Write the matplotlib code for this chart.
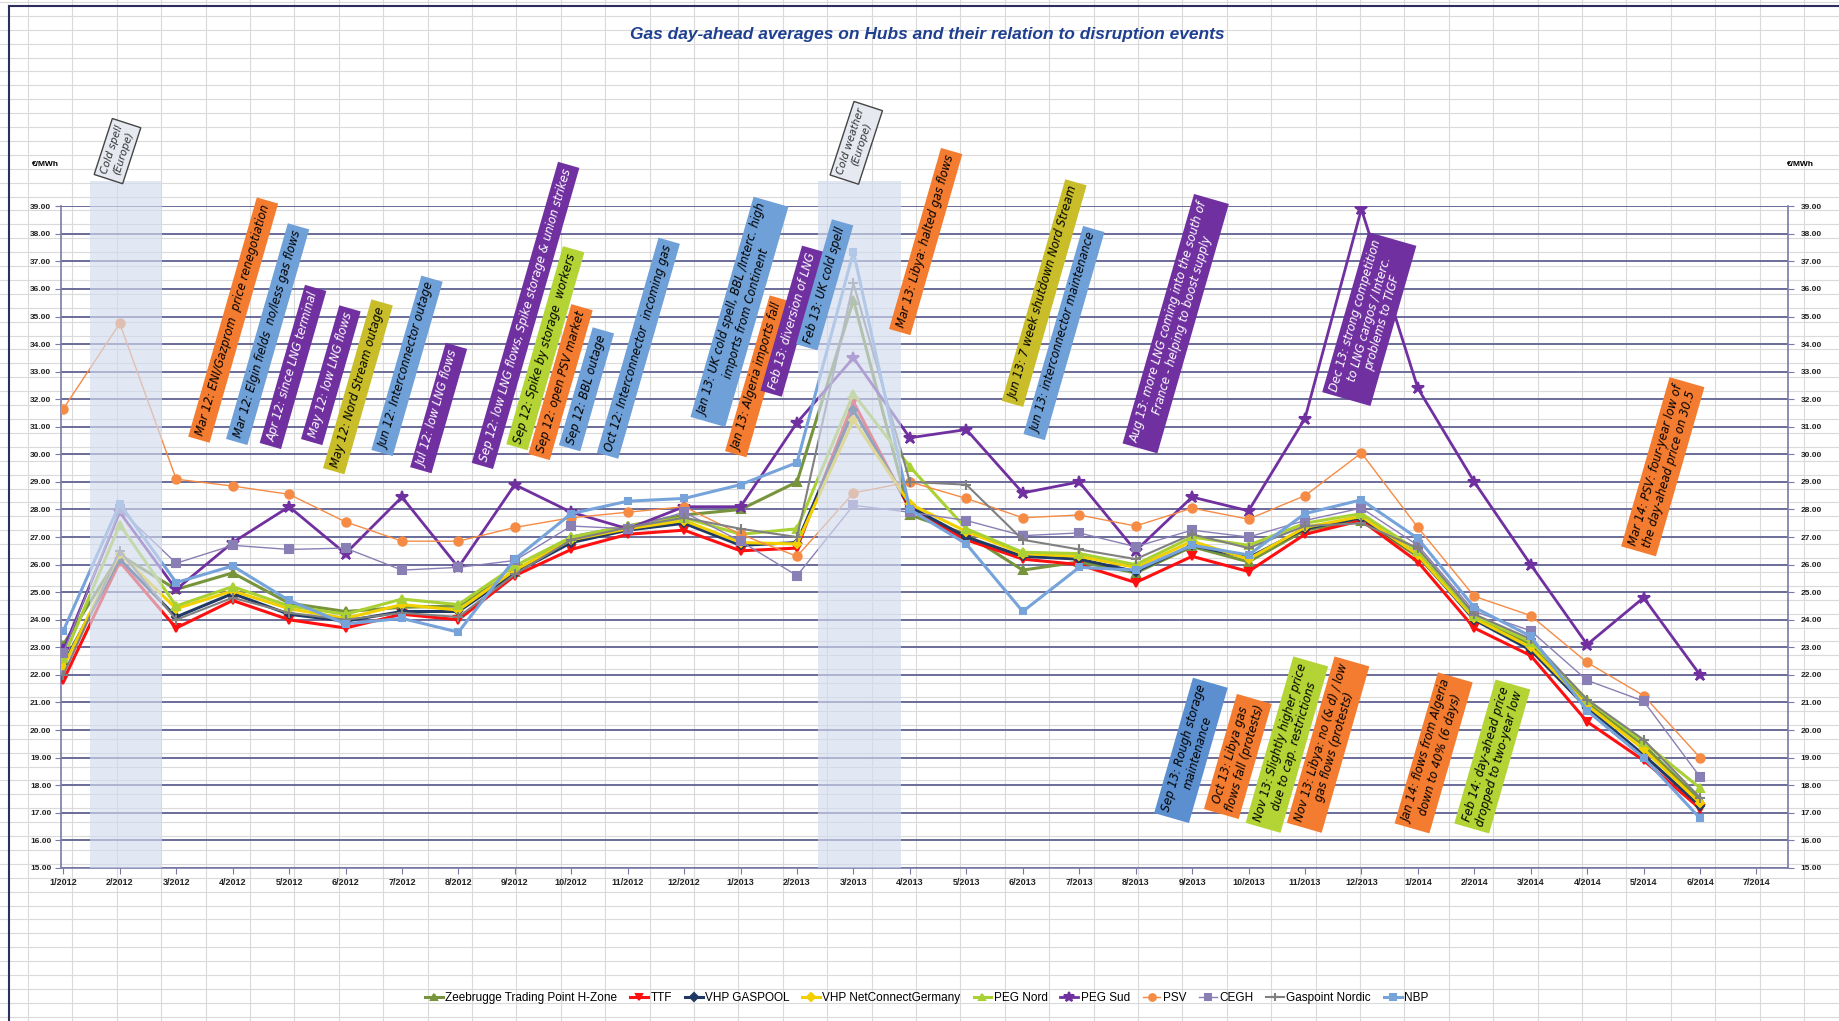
import numpy as np
import matplotlib
matplotlib.use("Agg")
import matplotlib.pyplot as plt
from matplotlib.lines import Line2D
from matplotlib.patches import Rectangle

plt.rcParams['font.family'] = ['Liberation Sans Narrow', 'Liberation Sans', 'DejaVu Sans']

# --- data ---
months = ["1/2012", "2/2012", "3/2012", "4/2012", "5/2012", "6/2012", "7/2012", "8/2012",
          "9/2012", "10/2012", "11/2012", "12/2012", "1/2013", "2/2013", "3/2013", "4/2013",
          "5/2013", "6/2013", "7/2013", "8/2013", "9/2013", "10/2013", "11/2013", "12/2013",
          "1/2014", "2/2014", "3/2014", "4/2014", "5/2014", "6/2014", "7/2014"]

zeebrugge = [23.1, 26.35, 25.1, 25.7, 24.6, 24.3, 24.45, 24.5, 25.75, 27.0, 27.4, 27.8, 28.0, 29.0, 35.6,
             27.8, 27.1, 25.8, 26.1, 25.7, 26.65, 26.1, 27.25, 27.6, 26.3, 24.1, 23.1, 21.0, 19.45, 17.45]
ttf = [21.8, 26.1, 23.7, 24.7, 24.0, 23.7, 24.2, 24.0, 25.6, 26.55, 27.1, 27.25, 26.5, 26.6, 31.9,
       28.0, 26.9, 26.2, 26.0, 25.35, 26.3, 25.75, 27.1, 27.6, 26.1, 23.7, 22.7, 20.3, 18.9, 17.15]
gaspool = [22.4, 26.2, 24.1, 24.95, 24.2, 23.95, 24.3, 24.3, 25.7, 26.8, 27.25, 27.5, 26.7, 26.8, 31.6,
           28.1, 27.0, 26.3, 26.2, 25.75, 26.7, 26.25, 27.3, 27.7, 26.35, 24.0, 22.9, 20.8, 19.1, 17.25]
netconnect = [22.3, 26.4, 24.4, 25.05, 24.4, 24.05, 24.55, 24.35, 25.8, 26.9, 27.3, 27.6, 26.8, 26.75, 31.25,
              28.2, 27.2, 26.4, 26.3, 25.9, 26.85, 26.2, 27.35, 27.75, 26.35, 24.05, 23.0, 20.9, 19.3, 17.35]
peg_nord = [22.6, 27.45, 24.5, 25.2, 24.5, 24.2, 24.75, 24.55, 25.95, 27.0, 27.4, 27.7, 27.1, 27.3, 32.2,
            29.55, 27.3, 26.45, 26.4, 26.0, 27.0, 26.7, 27.5, 27.85, 26.5, 24.15, 23.2, 21.1, 19.55, 17.9]
peg_sud = [22.9, 27.9, 25.1, 26.8, 28.1, 26.4, 28.45, 25.9, 28.9, 27.9, 27.3, 28.1, 28.1, 31.15, 33.5,
           30.6, 30.9, 28.6, 29.0, 26.5, 28.45, 27.95, 31.3, 38.9, 32.4, 29.0, 26.0, 23.1, 24.8, 22.0]
psv = [31.65, 34.75, 29.1, 28.85, 28.55, 27.55, 26.85, 26.85, 27.35, 27.7, 27.9, 28.1, 27.1, 26.3, 28.6,
       29.0, 28.4, 27.7, 27.8, 27.4, 28.05, 27.65, 28.5, 30.05, 27.35, 24.85, 24.15, 22.45, 21.25, 19.0]
cegh = [22.8, 28.0, 26.05, 26.7, 26.55, 26.6, 25.8, 25.9, 26.15, 27.4, 27.3, 27.9, 26.85, 25.6, 28.15,
        27.9, 27.6, 27.05, 27.15, 26.65, 27.25, 27.0, 27.6, 28.05, 26.7, 24.3, 23.6, 21.8, 21.05, 18.3]
gaspoint = [22.0, 26.5, 24.0, 24.8, 24.25, 24.0, 24.25, 24.1, 25.65, 26.9, 27.35, 27.7, 27.3, 27.0, 36.2,
            29.0, 28.9, 26.9, 26.55, 26.2, 27.1, 26.6, 27.4, 27.5, 26.6, 24.2, 23.3, 21.1, 19.65, 17.55]
nbp = [23.6, 28.2, 25.35, 25.95, 24.7, 23.85, 24.05, 23.55, 26.2, 27.85, 28.3, 28.4, 28.9, 29.7, 37.35,
       28.0, 26.75, 24.3, 25.9, 25.8, 26.7, 26.35, 27.85, 28.35, 26.95, 24.45, 23.4, 20.7, 19.0, 16.8]

# name, values, colour, marker, line width, marker size
series = [
    ("Zeebrugge Trading Point H-Zone", zeebrugge, '#77933c', '^', 2.2, 6),
    ("TTF", ttf, '#ff1010', 'v', 2.2, 6),
    ("VHP GASPOOL", gaspool, '#1f3864', 'D', 2.2, 4.5),
    ("VHP NetConnectGermany", netconnect, '#f2d000', 'D', 2.2, 4.5),
    ("PEG Nord", peg_nord, '#a9d134', '^', 2.2, 6),
    ("PEG Sud", peg_sud, '#7030a0', '*', 2.0, 9),
    ("PSV", psv, '#f58b45', 'o', 1.0, 6),
    ("CEGH", cegh, '#8a7fb5', 's', 1.0, 6),
    ("Gaspoint Nordic", gaspoint, '#808080', '+', 1.5, 7),
    ("NBP", nbp, '#76a3da', 's', 2.2, 5),
]

# event notes: text, face colour, text colour, x (month index), y (EUR/MWh)
purple, orange, lblue, lgreen = '#7030a0', '#f47c30', '#6fa0d8', '#b4d334'
notes = [
    ("Mar 12: ENI/Gazprom  price renegotiation", orange, 'black', 3.01, 34.87),
    ("Mar 12: Elgin fields  no/less gas flows", lblue, 'black', 3.62, 34.36),
    ("Apr 12: since LNG terminal", purple, 'white', 4.07, 33.17),
    ("May 12: low LNG flows", purple, 'white', 4.74, 32.87),
    ("May 12: Nord Stream outage", '#c9bd2a', 'black', 5.22, 32.45),
    ("Jun 12: Interconnector outage", lblue, 'black', 6.09, 33.21),
    ("Jul 12: low LNG flows", purple, 'white', 6.65, 31.68),
    ("Sep 12: low LNG flows, Spike storage & union strikes", purple, 'white', 8.19, 35.04),
    ("Sep 12: Spike by storage  workers", lgreen, 'black', 8.54, 33.85),
    ("Sep 12: open PSV market", orange, 'black', 8.81, 32.62),
    ("Sep 12: BBL outage", lblue, 'black', 9.27, 32.36),
    ("Oct 12: Interconnector  incoming gas", lblue, 'black', 10.19, 33.85),
    ("Jan 13: UK cold spell, BBL /Interc. high\nimports from Continent", lblue, 'black', 11.98, 35.17),
    ("Jan 13: Algeria imports fall", orange, 'black', 12.31, 32.83),
    ("Feb 13: diversion of LNG", purple, 'white', 12.91, 34.83),
    ("Feb 13: UK cold spell", lblue, 'black', 13.49, 36.15),
    ("Mar 13: Libya: halted gas flows", orange, 'black', 15.28, 37.72),
    ("Jun 13: 7 week shutdown Nord Stream", '#c9bd2a', 'black', 17.38, 35.85),
    ("Jun 13: interconnector maintenance", lblue, 'black', 17.73, 34.40),
    ("Aug 13: more LNG coming into the south of\nFrance - helping to boost supply", purple, 'white', 19.71, 34.74),
    ("Dec 13: strong competition\nto LNG cargos / Interc.\nproblems to TIGF", purple, 'white', 23.14, 34.91),
    ("Mar 14: PSV: four-year low of\nthe day-ahead price on 30.5", orange, 'black', 28.34, 29.55),
    ("Sep 13: Rough storage\nmaintenance", '#5b8fd0', 'black', 19.98, 19.26),
    ("Oct 13: Libya gas\nflows fall (protests)", orange, 'black', 20.81, 19.04),
    ("Nov 13: Slightly higher price\ndue to cap. restrictions", lgreen, 'black', 21.68, 19.47),
    ("Nov 13: Libya: no (& d) / low\ngas flows (protests)", orange, 'black', 22.41, 19.47),
    ("Jan 14: flows from Algeria\ndown to 40% (6 days)", orange, 'black', 24.28, 19.17),
    ("Feb 14: day-ahead price\ndropped to two-year low", lgreen, 'black', 25.32, 19.04),
]
cold_notes = [("Cold spell\n(Europe)", 0.96, 41.0), ("Cold weather\n(Europe)", 14.05, 41.3)]
cold_bands = [(0.48, 1.75), (13.37, 14.84)]

# --- figure ---
fig = plt.figure(figsize=(18.39, 10.21), dpi=100)

# spreadsheet cells behind the chart
bg = fig.add_axes([0, 0, 1, 1], zorder=-5)
bg.set_xlim(0, 1839)
bg.set_ylim(1021, 0)
bg.axis('off')
for yy in np.arange(2, 1021, 13.9):
    bg.axhline(yy, color='#dadada', lw=0.8)
for xx in np.arange(28, 1839, 44.4):
    bg.axvline(xx, color='#dadada', lw=0.8)
bg.plot([9, 9], [6, 1021], color='#2e2e5e', lw=1.5)
bg.plot([9, 1839], [6, 6], color='#2e2e5e', lw=1.5)

ax = fig.add_axes([0.0332, 0.150, 0.9391, 0.648])
ax.patch.set_alpha(0)
x = np.arange(len(peg_sud))
for name, vals, col, mk, lw, ms in series:
    ax.plot(x, vals, color=col, marker=mk, lw=lw, ms=ms, mew=1.5, label=name, zorder=3)

ax.set_ylim(15, 39)
ax.set_xlim(-0.04, 30.56)
ax.set_yticks(range(15, 40))
ax.set_yticklabels([f"{v:.2f}" for v in range(15, 40)], fontsize=6, fontweight='bold', color='#222222')
ax.set_xticks(range(len(months)))
ax.set_xticklabels(months, fontsize=6.5, fontweight='bold', color='#222222')
ax.tick_params(axis='both', direction='out', length=4, color='#7a7aa8', pad=3)
ax.yaxis.grid(True, color='#6b6b99', lw=1.4)
ax.set_axisbelow(True)
for s in ax.spines.values():
    s.set_color('#7a7aa8')
    s.set_linewidth(1.2)
ax.spines['top'].set_visible(False)

ax2 = ax.twinx()
ax2.set_ylim(15, 39)
ax2.set_yticks(range(15, 40))
ax2.set_yticklabels([f"{v:.2f}" for v in range(15, 40)], fontsize=6, fontweight='bold', color='#222222')
ax2.tick_params(axis='y', direction='out', length=4, color='#7a7aa8', pad=5)
for s in ax2.spines.values():
    s.set_visible(False)

# shaded cold periods (drawn over the lines, like the original)
for x0, x1 in cold_bands:
    ax.add_patch(Rectangle((x0, 15), x1 - x0, 24.9, facecolor='#d3dcee', alpha=0.65,
                           edgecolor='none', zorder=5, clip_on=False))
for txt, xx, yy in cold_notes:
    ax.text(xx, yy, txt, rotation=72, ha='center', va='center', rotation_mode='anchor',
            fontsize=7.5, style='italic', color='#333333', zorder=11, clip_on=False,
            family='DejaVu Sans',
            bbox=dict(boxstyle='square,pad=0.4', fc='#e6eaf0', ec='#444444', lw=1))

for txt, fc, tc, xx, yy in notes:
    ax.text(xx, yy, txt, rotation=74, ha='center', va='center', rotation_mode='anchor',
            fontsize=8.3, style='italic', color=tc, zorder=10, clip_on=False,
            family='DejaVu Sans', linespacing=1.1,
            bbox=dict(boxstyle='square,pad=0.4', fc=fc, ec='none'))

fig.text(0.504, 1 - 35 / 1021, "Gas day-ahead averages on Hubs and their relation to disruption events",
         ha='center', va='center', fontsize=12.5, style='italic', fontweight='bold', color='#1f3f8f')
fig.text(45 / 1839, 1 - 164 / 1021, "€/MWh", ha='center', va='center', fontsize=6, fontweight='bold')
fig.text(1800 / 1839, 1 - 164 / 1021, "€/MWh", ha='center', va='center', fontsize=6, fontweight='bold')

handles = [Line2D([], [], color=col, marker=mk, lw=lw, ms=ms * 0.8, mew=1.5)
           for name, vals, col, mk, lw, ms in series]
fig.legend(handles, [s[0] for s in series], loc='center', bbox_to_anchor=(0.504, 1 - 998 / 1021),
           ncol=10, frameon=False, fontsize=8.5, handlelength=1.5, columnspacing=1.1,
           handletextpad=0.2)

fig.savefig("out.png", dpi=100)
